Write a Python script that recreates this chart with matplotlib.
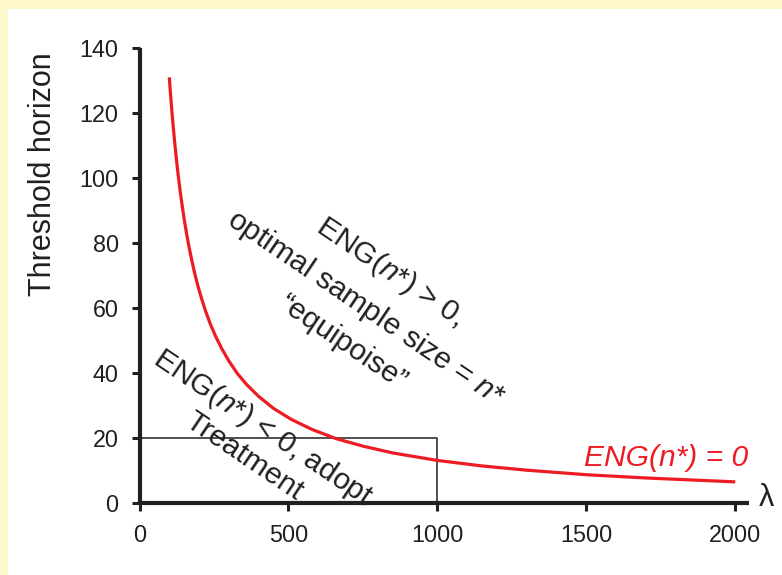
import matplotlib
matplotlib.use("Agg")
import matplotlib.pyplot as plt
from matplotlib.patches import Rectangle

plt.rcParams['font.family'] = ['Liberation Sans', 'DejaVu Sans']
plt.rcParams['mathtext.fontset'] = 'custom'
plt.rcParams['mathtext.rm'] = 'Liberation Sans'
plt.rcParams['mathtext.it'] = 'Liberation Sans:italic'

INK = '#231F20'
RED = '#ED1C24'
PAPER = '#FEF9CD'

# Threshold horizon H at which ENG(n*) = 0, as a function of lambda
lam = [100, 104, 108, 112, 116, 120, 125, 130, 136, 142, 150, 158, 166, 175,
       185, 196, 208, 222, 238, 256, 276, 300, 328, 360, 400, 450, 510, 580,
       660, 750, 850, 1000, 1150, 1300, 1500, 1700, 1850, 2000]
horizon = [131, 126, 121.3, 117, 113, 109.2, 104.8, 100.8, 96.3, 92.3, 87.3,
           82.9, 78.9, 74.9, 70.8, 66.8, 63, 59, 55, 51.2, 47.5, 43.7, 39.9,
           36.4, 32.8, 29.1, 25.7, 22.6, 19.8, 17.5, 15.4, 13.1, 11.4, 10.1,
           8.7, 7.7, 7.1, 6.5]

# Reference box corner (lambda, horizon)
box_lam = 1000
box_h = 20

x_ticks = [0, 500, 1000, 1500, 2000]
y_ticks = [0, 20, 40, 60, 80, 100, 120, 140]

W, H = 782, 575
fig = plt.figure(figsize=(W / 100, H / 100), dpi=100, facecolor=PAPER)
fig.patches.append(Rectangle((8 / W, 0), 1, 1 - 9 / H, transform=fig.transFigure,
                             facecolor='white', edgecolor='none', zorder=-10))

ax = fig.add_axes([139.5 / W, (H - 503) / H, (749 - 139.5) / W, (503 - 48) / H])
ax.set_facecolor('none')
ax.set_xlim(0, 2046)
ax.set_ylim(0, 140)

for s in ['top', 'right']:
    ax.spines[s].set_visible(False)
for s in ['left', 'bottom']:
    ax.spines[s].set_linewidth(3)
    ax.spines[s].set_color(INK)
    ax.spines[s].set_capstyle('butt')

ax.set_xticks(x_ticks)
ax.set_yticks(y_ticks)
ax.tick_params(axis='both', direction='out', length=6, width=2.2, color=INK,
               labelsize=16.8, labelcolor=INK, pad=9)

# Reference box
ax.plot([0, box_lam, box_lam], [box_h, box_h, 0], color=INK, lw=1.1, zorder=2)

# Boundary curve
ax.plot(lam, horizon, color=RED, lw=2.3, solid_capstyle='butt',
        solid_joinstyle='round', zorder=3)

ax.text(765, 60.5,
        'ENG($\\mathit{n}$*) > 0,\noptimal sample size = $\\mathit{n}$*\n\u201cequipoise\u201d',
        rotation=-34, rotation_mode='anchor', ha='center', va='center',
        multialignment='center', fontsize=21.6, color=INK, linespacing=1.5)

ax.text(386, 19, 'ENG($\\mathit{n}$*) < 0, adopt\nTreatment',
        rotation=-34, rotation_mode='anchor', ha='center', va='center',
        multialignment='center', fontsize=21.6, color=INK, linespacing=1.15)

ax.text(2042, 11.4, 'ENG(n*) = 0', color=RED, fontsize=21.6, style='italic',
        ha='right', va='baseline')

ax.text(2080, 1.5, '\u03bb', color=INK, fontsize=22, ha='left', va='center',
        clip_on=False)

fig.text(43 / W, 1 - 174 / H, 'Threshold horizon', rotation=90, ha='center',
         va='center', fontsize=22, color=INK)

fig.savefig('out.png', dpi=100, facecolor=PAPER)
